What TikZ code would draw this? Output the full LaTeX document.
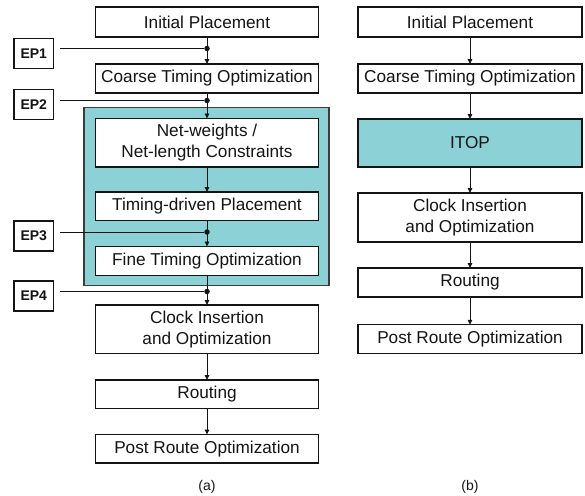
\documentclass[tikz,border=0pt]{standalone}
\usepackage{fontspec}
\setmainfont{Liberation Sans}
\usetikzlibrary{arrows.meta}
\definecolor{teal1}{RGB}{139,209,214}
\definecolor{tealedge}{RGB}{60,60,60}
\definecolor{ink}{RGB}{20,20,20}
\begin{document}
\begin{tikzpicture}[x=1pt,y=-1pt,
 stepbox/.style={draw=ink, line width=1.1pt, fill=white, inner sep=0pt, outer sep=0pt, minimum width=223pt, align=center, font=\fontsize{17.2}{20.7}\selectfont, text=ink},
 epbox/.style={draw=ink, line width=1.1pt, fill=white, inner sep=0pt, outer sep=0pt, minimum width=39.5pt, minimum height=30pt, font=\fontsize{14}{16}\selectfont\bfseries, text=ink},
 arr/.style={draw=ink, line width=0.9pt, -{Triangle[length=5pt,width=4.5pt]}},
 conn/.style={draw=ink, line width=0.9pt},
 dot/.style={circle, fill=ink, inner sep=0pt, minimum size=5.5pt},
 captext/.style={font=\fontsize{14}{16}\selectfont, text=ink}
]
\useasboundingbox (0,0) rectangle (585,495);

% ---------- (a) ----------
\node[draw=tealedge, fill=teal1, line width=1.4pt, inner sep=0pt, minimum width=245pt, minimum height=178pt] (grp) at (206.5,196.25) {};

\node[stepbox, minimum height=30pt] (ipa) at (207,22) {Initial Placement};
\node[stepbox, minimum height=29pt] (cta) at (207,78.5) {Coarse Timing Optimization};
\node[stepbox, minimum height=48.5pt] (nwa) at (207,142.75) {Net-weights /\\Net-length Constraints};
\node[stepbox, minimum height=28.5pt] (tda) at (207,206.25) {Timing-driven Placement};
\node[stepbox, minimum height=29pt] (fta) at (207,261) {Fine Timing Optimization};
\node[stepbox, minimum height=48.5pt] (cia) at (207,329.25) {Clock Insertion\\and Optimization};
\node[stepbox, minimum height=28.5pt] (rta) at (207,394.25) {Routing};
\node[stepbox, minimum height=28.5pt] (pra) at (207,448.75) {Post Route Optimization};
\node[captext] (capa) at (207,486.5) {(a)};

\node[epbox] (ep1) at (33.75,53.5) {EP1};
\node[epbox] (ep2) at (33.75,104.5) {EP2};
\node[epbox] (ep3) at (33.75,236) {EP3};
\node[epbox] (ep4) at (33.75,296) {EP4};

\draw[arr] (ipa) -- (cta);
\draw[arr] (cta) -- (nwa);
\draw[arr] (nwa) -- (tda);
\draw[arr] (tda) -- (fta);
\draw[arr] (fta) -- (cia);
\draw[arr] (cia) -- (rta);
\draw[arr] (rta) -- (pra);

\node[dot] (d1) at (207,48.5) {};
\node[dot] (d2) at (207,100.5) {};
\node[dot] (d3) at (207,232) {};
\node[dot] (d4) at (207,291.5) {};

\path (ep1.east |- d1) ++(6.5,0) coordinate (s1);
\path (ep2.east |- d2) ++(6.5,0) coordinate (s2);
\path (ep3.east |- d3) ++(6.5,0) coordinate (s3);
\path (ep4.east |- d4) ++(6.5,0) coordinate (s4);
\draw[conn] (s1) -- (d1);
\draw[conn] (s2) -- (d2);
\draw[conn] (s3) -- (d3);
\draw[conn] (s4) -- (d4);

% ---------- (b) ----------
\node[stepbox, minimum width=224pt, minimum height=30pt] (ipb) at (470,22) {Initial Placement};
\node[stepbox, minimum width=224pt, minimum height=29pt] (ctb) at (470,78.5) {Coarse Timing Optimization};
\node[stepbox, minimum width=224pt, minimum height=48pt, fill=teal1] (itb) at (470,143) {ITOP};
\node[stepbox, minimum width=224pt, minimum height=49pt] (cib) at (470,217.5) {Clock Insertion\\and Optimization};
\node[stepbox, minimum width=224pt, minimum height=29pt] (rtb) at (470,282.5) {Routing};
\node[stepbox, minimum width=224pt, minimum height=28.5pt] (prb) at (470,339) {Post Route Optimization};
\node[captext] (capb) at (470,487) {(b)};

\draw[arr] (ipb) -- (ctb);
\draw[arr] (ctb) -- (itb);
\draw[arr] (itb) -- (cib);
\draw[arr] (cib) -- (rtb);
\draw[arr] (rtb) -- (prb);
\end{tikzpicture}
\end{document}
